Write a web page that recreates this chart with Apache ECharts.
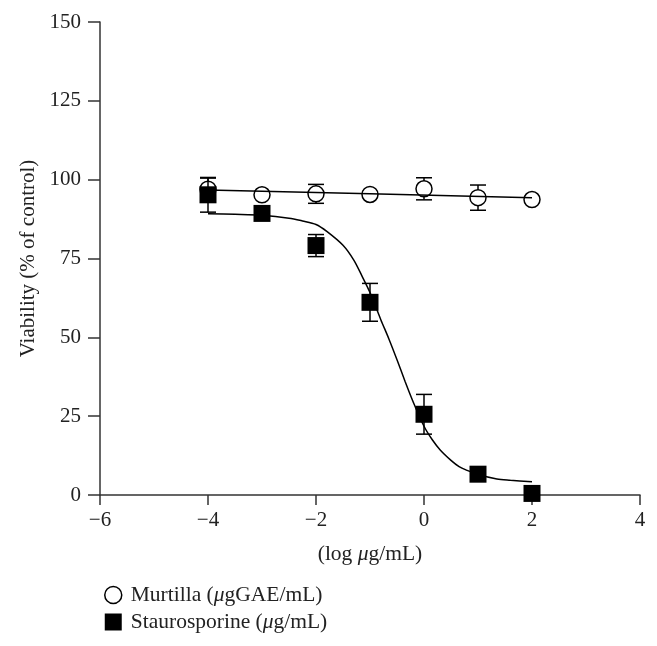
<!DOCTYPE html>
<html>
<head>
<meta charset="utf-8">
<script src="https://cdn.jsdelivr.net/npm/echarts@6/dist/echarts.min.js"></script>
<style>html,body{margin:0;padding:0;background:#fff}#c{width:657px;height:646px}</style>
</head>
<body>
<div id="c"></div>
<script>
// Data
var doses = [-4, -3, -2, -1, 0, 1, 2];
var murtilla = [97.0, 95.2, 95.5, 95.3, 97.1, 94.3, 93.7];
var murtillaErr = [3.5, 0, 3.0, 0, 3.5, 4.0, 0];
var stauro = [95.2, 89.3, 79.1, 61.1, 25.6, 6.6, 0.5];
var stauroErr = [5.5, 0, 3.5, 6.0, 6.3, 0, 0];
// Fitted curves
var murtillaFitX = [-4, -1, 2];
var murtillaFitY = [96.7, 95.5, 94.3];
var stauroFitX = [-4, -3.5, -3, -2.5, -2.25, -2, -1.8, -1.5, -1.3, -1.15, -1.0, -0.8, -0.65, -0.5, -0.35, -0.2, 0, 0.15, 0.3, 0.5, 0.65, 0.8, 1.0, 1.35, 1.6, 2];
var stauroFitY = [89.2, 89.0, 88.7, 87.8, 86.9, 85.8, 83.6, 79.2, 74.5, 69.5, 64.2, 55.6, 49.5, 42.9, 36.0, 29.5, 21.8, 17.6, 14.3, 11.0, 9.0, 7.8, 6.5, 5.1, 4.7, 4.2];
var xTicks = [-6, -4, -2, 0, 2, 4];
var yTicks = [0, 25, 50, 75, 100, 125, 150];
var seriesNames = ['Murtilla', 'Staurosporine'];

var FONT = '"Liberation Serif", "DejaVu Serif", serif';
function zip(a, b) { return a.map(function (v, i) { return [v, b[i]]; }); }
function errData(x, y, e) {
  var out = [];
  x.forEach(function (v, i) { if (e[i] > 0) out.push([v, y[i] - e[i], y[i] + e[i]]); });
  return out;
}
function errRender(params, api) {
  var x = api.value(0);
  var lo = api.coord([x, api.value(1)]);
  var hi = api.coord([x, api.value(2)]);
  var hw = 8;
  var st = { stroke: '#000', lineWidth: 1.5 };
  return {
    type: 'group',
    children: [
      { type: 'line', shape: { x1: lo[0], y1: lo[1], x2: hi[0], y2: hi[1] }, style: st },
      { type: 'line', shape: { x1: lo[0] - hw, y1: lo[1], x2: lo[0] + hw, y2: lo[1] }, style: st },
      { type: 'line', shape: { x1: hi[0] - hw, y1: hi[1], x2: hi[0] + hw, y2: hi[1] }, style: st }
    ]
  };
}

var chart = echarts.init(document.getElementById('c'));
chart.setOption({
  animation: false,
  backgroundColor: '#fff',
  textStyle: { fontFamily: FONT },
  grid: { left: 100, right: 17, top: 22, bottom: 151 },
  xAxis: {
    type: 'value', min: xTicks[0], max: xTicks[xTicks.length - 1], interval: 2,
    axisLine: { onZero: false, lineStyle: { color: '#333', width: 1.5 } },
    axisTick: { length: 10, lineStyle: { color: '#333', width: 1.5 } },
    splitLine: { show: false },
    axisLabel: { margin: 15, fontSize: 21, color: '#222', fontFamily: FONT,
      formatter: function (v) { return String(v).replace('-', '\u2212'); } },
    name: '(log {i|\u03bc}g/mL)', nameLocation: 'middle', nameGap: 48,
    nameTextStyle: { fontSize: 21.5, color: '#222', fontFamily: FONT,
      rich: { i: { fontStyle: 'italic', fontSize: 21.5, fontFamily: FONT, color: '#222' } } }
  },
  yAxis: {
    type: 'value', min: yTicks[0], max: yTicks[yTicks.length - 1], interval: 25,
    axisLine: { onZero: false, lineStyle: { color: '#333', width: 1.5 } },
    axisTick: { length: 12, lineStyle: { color: '#333', width: 1.5 } },
    splitLine: { show: false },
    axisLabel: { margin: 19, fontSize: 21, color: '#222', fontFamily: FONT },
    name: 'Viability (% of control)', nameLocation: 'middle', nameGap: 52,
    nameTextStyle: { fontSize: 21, color: '#222', fontFamily: FONT }
  },
  legend: {
    orient: 'vertical', left: 99, top: 579, itemGap: 5,
    itemWidth: 17, itemHeight: 17,
    textStyle: { fontSize: 21.5, color: '#222', fontFamily: FONT, lineHeight: 21, padding: [0, 0, 0, 4],
      rich: { i: { fontStyle: 'italic', fontSize: 21.5, fontFamily: FONT, color: '#222' } } },
    formatter: function (n) {
      return n === seriesNames[0] ? 'Murtilla ({i|\u03bc}gGAE/mL)' : 'Staurosporine ({i|\u03bc}g/mL)';
    },
    data: [
      { name: seriesNames[0], icon: 'circle', itemStyle: { color: '#fff', borderColor: '#000', borderWidth: 1.5 } },
      { name: seriesNames[1], icon: 'rect', itemStyle: { color: '#000', borderWidth: 0 } }
    ]
  },
  series: [
    { type: 'custom', name: 'mErr', renderItem: errRender, data: errData(doses, murtilla, murtillaErr), z: 2, silent: true },
    { type: 'scatter', name: seriesNames[0], data: zip(doses, murtilla), symbol: 'circle', symbolSize: 16,
      itemStyle: { color: '#fff', borderColor: '#000', borderWidth: 1.5, opacity: 1 }, z: 3 },
    { type: 'line', name: 'mFit', data: zip(murtillaFitX, murtillaFitY), showSymbol: false, symbol: 'none',
      lineStyle: { color: '#000', width: 1.5 }, z: 4, silent: true },
    { type: 'custom', name: 'sErr', renderItem: errRender, data: errData(doses, stauro, stauroErr), z: 5, silent: true },
    { type: 'line', name: 'sFit', data: zip(stauroFitX, stauroFitY), showSymbol: false, symbol: 'none',
      smooth: 0.3,
      lineStyle: { color: '#000', width: 1.5 }, z: 6, silent: true },
    { type: 'scatter', name: seriesNames[1], data: zip(doses, stauro), symbol: 'rect', symbolSize: 17,
      itemStyle: { color: '#000', opacity: 1 }, z: 7 }
  ]
});
</script>
</body>
</html>
